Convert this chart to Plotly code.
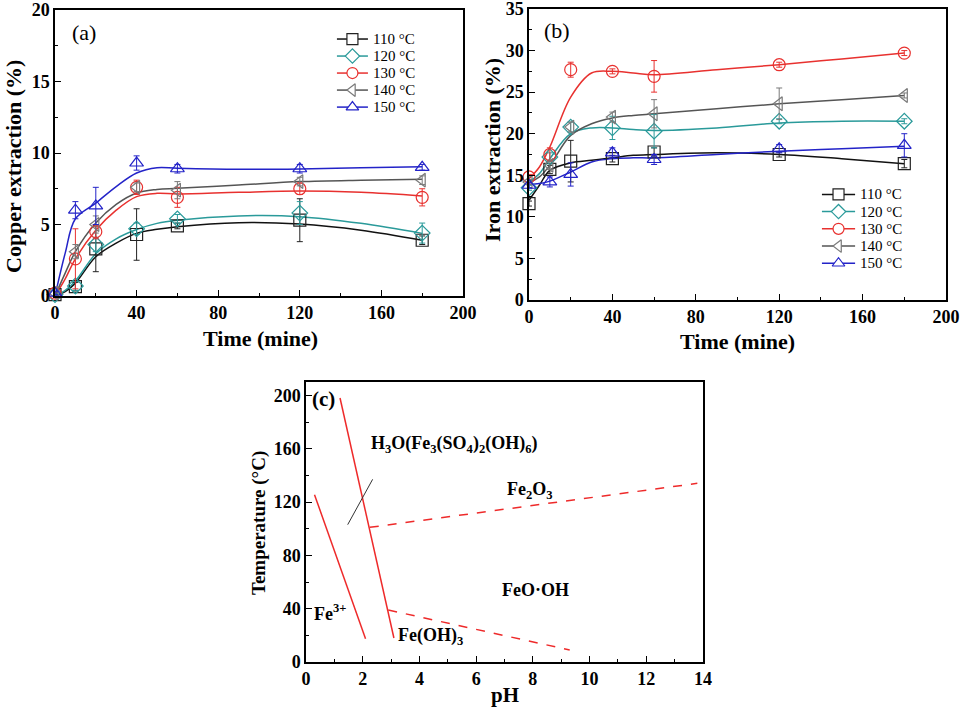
import plotly.graph_objects as go

# ---------------- data ----------------
time_pts = [0, 10, 20, 40, 60, 120, 180]
fit_t = [0, 5, 10, 20, 30, 40, 50, 60, 90, 120, 150, 180]
temps = ["110 °C", "120 °C", "130 °C", "140 °C", "150 °C"]

cu_110 = [0.1, 0.65, 3.3, 4.3, 4.9, 5.3, 3.9]
cu_120 = [0.1, 0.7, 3.6, 4.7, 5.4, 5.8, 4.4]
cu_130 = [0.2, 2.6, 4.5, 7.6, 6.9, 7.5, 6.9]
cu_140 = [0.2, 3.1, 5.0, 7.6, 7.4, 8.0, 8.1]
cu_150 = [0.2, 6.0, 6.3, 9.3, 8.9, 8.9, 9.0]
cu_err_110 = [0.1, 0.3, 1.6, 1.8, 0.2, 1.5, 0.3]
cu_err_120 = [0.1, 0.3, 0.5, 0.4, 0.3, 0.8, 0.7]
cu_err_130 = [0.1, 2.1, 0.5, 0.5, 0.7, 0.4, 0.6]
cu_err_140 = [0.1, 0.5, 0.6, 0.3, 0.6, 0.3, 0.3]
cu_err_150 = [0.1, 0.6, 1.3, 0.5, 0.3, 0.3, 0.2]
cu_fit_110 = [0, 0.3, 0.9, 2.75, 3.7, 4.38, 4.66, 4.85, 5.13, 5.03, 4.6, 3.9]
cu_fit_120 = [0, 0.4, 1.05, 2.95, 4.0, 4.65, 5.08, 5.3, 5.6, 5.55, 5.08, 4.38]
cu_fit_130 = [0, 1.2, 2.6, 4.6, 6.0, 6.95, 7.18, 7.13, 7.25, 7.34, 7.25, 7.0]
cu_fit_140 = [0, 1.6, 3.1, 5.1, 6.4, 7.2, 7.45, 7.53, 7.76, 8.0, 8.1, 8.16]
cu_fit_150 = [0, 3.0, 5.4, 6.5, 7.65, 8.6, 8.97, 8.93, 8.86, 8.88, 8.97, 9.04]

fe_110 = [11.6, 15.7, 16.7, 17.0, 17.8, 17.5, 16.4]
fe_120 = [13.5, 17.2, 20.8, 20.7, 20.3, 21.5, 21.5]
fe_130 = [14.8, 17.5, 27.7, 27.5, 26.9, 28.3, 29.7]
fe_140 = [14.2, 16.2, 20.8, 22.0, 22.4, 23.6, 24.6]
fe_150 = [13.8, 14.2, 15.1, 17.7, 16.9, 18.2, 18.6]
fe_err_110 = [0.3, 0.5, 2.5, 0.4, 0.5, 0.3, 0.5]
fe_err_120 = [0.3, 0.5, 0.6, 1.4, 2.0, 0.3, 0.3]
fe_err_130 = [0.3, 0.8, 0.9, 0.3, 1.9, 0.3, 0.3]
fe_err_140 = [0.3, 0.5, 0.6, 0.6, 1.7, 1.9, 0.3]
fe_err_150 = [0.3, 0.6, 1.4, 0.6, 0.6, 0.5, 1.4]
fe_fit_110 = [12.0, 13.8, 15.6, 16.5, 16.8, 17.1, 17.4, 17.5, 17.7, 17.5, 17.0, 16.4]
fe_fit_120 = [14.2, 15.2, 17.0, 20.0, 20.7, 20.7, 20.5, 20.4, 20.7, 21.3, 21.5, 21.5]
fe_fit_130 = [14.6, 16.0, 18.4, 24.4, 27.3, 27.5, 27.3, 27.1, 27.7, 28.3, 29.0, 29.7]
fe_fit_140 = [14.1, 14.8, 16.2, 19.8, 21.2, 21.9, 22.2, 22.4, 23.0, 23.6, 24.1, 24.6]
fe_fit_150 = [13.9, 14.0, 14.3, 15.4, 16.6, 17.0, 17.1, 17.1, 17.5, 17.9, 18.2, 18.5]

# Pourbaix-type diagram (c): line segments (pH, T)
jar_bound_ph = [1.2, 3.1]
jar_bound_t = [198, 18]
fe3_bound_ph = [0.3, 2.1]
fe3_bound_t = [125.5, 17.5]
black_seg_ph = [1.47, 2.35]
black_seg_t = [103, 137]
fe2o3_bound_ph = [2.25, 13.8]
fe2o3_bound_t = [101, 134]
feoh3_bound_ph = [2.9, 9.3]
feoh3_bound_t = [39, 9]

# ---------------- styling ----------------
colors = ["#222222", "#2a9a9a", "#e8312f", "#7a7a7a", "#2323c8"]
line_colors = ["#111111", "#2a9a9a", "#e8312f", "#555555", "#2323c8"]
symbols = ["square-open", "diamond-open", "circle-open", "triangle-left-open", "triangle-up-open"]
legend_symbols = ["square", "diamond", "circle", "triangle-left", "triangle-up"]
serif = "Liberation Serif"

cu_vals = [cu_110, cu_120, cu_130, cu_140, cu_150]
cu_errs = [cu_err_110, cu_err_120, cu_err_130, cu_err_140, cu_err_150]
cu_fits = [cu_fit_110, cu_fit_120, cu_fit_130, cu_fit_140, cu_fit_150]
fe_vals = [fe_110, fe_120, fe_130, fe_140, fe_150]
fe_errs = [fe_err_110, fe_err_120, fe_err_130, fe_err_140, fe_err_150]
fe_fits = [fe_fit_110, fe_fit_120, fe_fit_130, fe_fit_140, fe_fit_150]

# legend layout (in each panel's data units): line start/end, text x, first row y, row step
legend_a = dict(x0=138.2, x1=153.4, xt=155.0, y0=17.97, dy=1.19)
legend_b = dict(x0=140.5, x1=156.4, xt=157.8, y0=12.7, dy=2.07)

fig = go.Figure()

for vals, errs, fits, xa, ya, lg in [
        (cu_vals, cu_errs, cu_fits, "x", "y", legend_a),
        (fe_vals, fe_errs, fe_fits, "x2", "y2", legend_b)]:
    for i in range(5):
        fig.add_trace(go.Scatter(
            x=fit_t, y=fits[i], mode="lines", line=dict(color=line_colors[i], width=1.5, shape="spline", smoothing=1.0),
            xaxis=xa, yaxis=ya, showlegend=False, hoverinfo="skip"))
    for i in range(5):
        fig.add_trace(go.Scatter(
            x=time_pts, y=vals[i], mode="markers",
            marker=dict(symbol=symbols[i], size=12, color=colors[i], line=dict(width=1.2, color=colors[i])),
            error_y=dict(type="data", array=errs[i], color=colors[i], thickness=1, width=3),
            xaxis=xa, yaxis=ya, showlegend=False, cliponaxis=False))
    # manual legend, rows spaced like the reference
    for i in range(5):
        yy = lg["y0"] - i * lg["dy"]
        fig.add_trace(go.Scatter(
            x=[lg["x0"], lg["x1"]], y=[yy, yy], mode="lines", line=dict(color=line_colors[i], width=1.5),
            xaxis=xa, yaxis=ya, showlegend=False, hoverinfo="skip"))
        fig.add_trace(go.Scatter(
            x=[(lg["x0"] + lg["x1"]) / 2], y=[yy], mode="markers",
            marker=dict(symbol=legend_symbols[i], size=11, color="white", line=dict(width=1.2, color=colors[i])),
            xaxis=xa, yaxis=ya, showlegend=False, hoverinfo="skip"))
        fig.add_annotation(xref=xa, yref=ya, x=lg["xt"], y=yy, text=temps[i], showarrow=False,
                           xanchor="left", yanchor="middle", font=dict(family=serif, size=15, color="black"))

red = "#ee2a2a"
fig.add_trace(go.Scatter(x=jar_bound_ph, y=jar_bound_t, mode="lines", line=dict(color=red, width=1.5),
                         xaxis="x3", yaxis="y3", showlegend=False))
fig.add_trace(go.Scatter(x=fe3_bound_ph, y=fe3_bound_t, mode="lines", line=dict(color=red, width=1.5),
                         xaxis="x3", yaxis="y3", showlegend=False))
fig.add_trace(go.Scatter(x=black_seg_ph, y=black_seg_t, mode="lines", line=dict(color="#333333", width=1),
                         xaxis="x3", yaxis="y3", showlegend=False))
fig.add_trace(go.Scatter(x=fe2o3_bound_ph, y=fe2o3_bound_t, mode="lines", line=dict(color=red, width=1.5, dash="dash"),
                         xaxis="x3", yaxis="y3", showlegend=False))
fig.add_trace(go.Scatter(x=feoh3_bound_ph, y=feoh3_bound_t, mode="lines", line=dict(color=red, width=1.5, dash="dash"),
                         xaxis="x3", yaxis="y3", showlegend=False))

W, H = 963, 707

def px_x(p):
    return p / W

def px_y(p):
    return 1 - p / H

tickfont = dict(family=serif, size=18, color="black", weight=700)

def axis(domain, rng, dtick, minor_dtick, anchor, tf=tickfont):
    return dict(domain=domain, range=rng, dtick=dtick, tick0=0, showline=True, mirror=True,
                linecolor="black", linewidth=1.5, ticks="inside", ticklen=6, tickwidth=1.2,
                tickcolor="black", minor=dict(ticks="inside", ticklen=3, dtick=minor_dtick, tickcolor="black", tickwidth=1),
                showgrid=False, zeroline=False, tickfont=tf, anchor=anchor, ticklabeloverflow="allow",
                automargin=False)

tf_c = dict(family=serif, size=18, color="black", weight=700)

fig.update_layout(
    width=W, height=H, margin=dict(l=0, r=0, t=0, b=0, autoexpand=False),
    paper_bgcolor="white", plot_bgcolor="white",
    xaxis=axis([px_x(55), px_x(463)], [0, 200], 40, 20, "y"),
    yaxis=axis([px_y(296), px_y(10)], [0, 20], 5, 2.5, "x"),
    xaxis2=axis([px_x(529), px_x(946)], [0, 200], 40, 20, "y2"),
    yaxis2=axis([px_y(300), px_y(9)], [0, 35], 5, 2.5, "x2"),
    xaxis3=axis([px_x(306), px_x(703)], [0, 14], 2, 1, "y3", tf_c),
    yaxis3=axis([px_y(662), px_y(382)], [0, 210], 40, 20, "x3", tf_c),
    showlegend=False,
)

ann = [
    dict(text="Copper extraction (%)", x=px_x(13), y=px_y(167), textangle=-90, size=22),
    dict(text="Time (mine)", x=px_x(260), y=px_y(338), size=22),
    dict(text="Iron extraction (%)", x=px_x(492), y=px_y(150), textangle=-90, size=22),
    dict(text="Time (mine)", x=px_x(737), y=px_y(341), size=22),
    dict(text="Temperature (°C)", x=px_x(259), y=px_y(523), textangle=-90, size=19),
    dict(text="pH", x=px_x(505), y=px_y(695), size=21),
]
for a in ann:
    size = a.pop("size")
    fig.add_annotation(xref="paper", yref="paper", showarrow=False, xanchor="center", yanchor="middle",
                       font=dict(family=serif, size=size, color="black", weight=700), **a)

fig.add_annotation(xref="x", yref="y", x=7.5, y=18.4, text="(a)", showarrow=False, xanchor="left",
                   font=dict(family=serif, size=22, color="black"))
fig.add_annotation(xref="x2", yref="y2", x=6.0, y=32.4, text="(b)", showarrow=False, xanchor="left",
                   font=dict(family=serif, size=22, color="black"))

c_font = dict(family=serif, size=18, color="black", weight=700)
c_labels = [
    ("(c)", 0.15, 197, "left", 21),
    ("H<sub>3</sub>O(Fe<sub>3</sub>(SO<sub>4</sub>)<sub>2</sub>(OH)<sub>6</sub>)", 5.25, 163, "center", 18),
    ("Fe<sub>2</sub>O<sub>3</sub>", 7.9, 129, "center", 18),
    ("FeO·OH", 8.1, 54, "center", 18),
    ("Fe<sup>3+</sup>", 0.85, 37, "center", 18),
    ("Fe(OH)<sub>3</sub>", 4.4, 19, "center", 18),
]
for t, x, y, xa, sz in c_labels:
    fig.add_annotation(xref="x3", yref="y3", x=x, y=y, text=t, showarrow=False, xanchor=xa, yanchor="middle",
                       font=dict(c_font, size=sz))

fig.write_html("out.html")
